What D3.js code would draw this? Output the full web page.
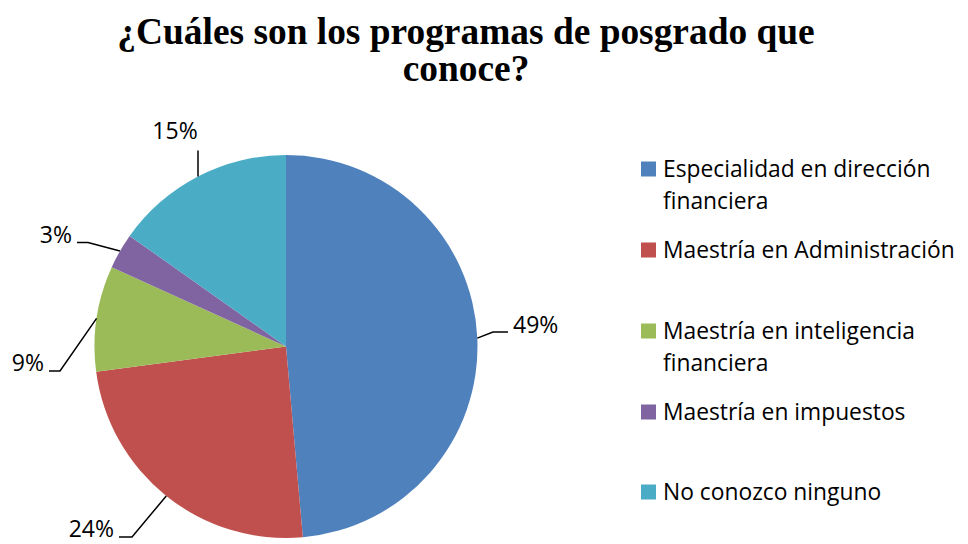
<!DOCTYPE html>
<html>
<head>
<meta charset="utf-8">
<script src="https://cdn.jsdelivr.net/npm/d3@7/dist/d3.min.js"></script>
<style>
  body { margin: 0; background: #fff; }
  svg { display: block; }
</style>
</head>
<body>
<svg id="chart" width="968" height="544"></svg>
<script>
const titleLines = ["¿Cuáles son los programas de posgrado que", "conoce?"];
const categories = [
    "Especialidad en dirección financiera",
    "Maestría en Administración",
    "Maestría en inteligencia financiera",
    "Maestría en impuestos",
    "No conozco ninguno"
];
// shares as drawn (labels show them rounded)
const values = [48.6, 24.3, 8.9, 3.0, 15.2];
const colors = ["#4F81BD", "#C0504D", "#9BBB59", "#8064A2", "#4BACC6"];
// legend text broken the way the original wraps it
const legendLines = [
    ["Especialidad en dirección", "financiera"],
    ["Maestría en Administración"],
    ["Maestría en inteligencia", "financiera"],
    ["Maestría en impuestos"],
    ["No conozco ninguno"]
];

const svg = d3.select("#chart");
const cx = 286, cy = 346.5, radius = 191.5;

// title
svg.append("g")
    .selectAll("text")
    .data(titleLines)
    .join("text")
    .attr("x", 466)
    .attr("y", (d, i) => 44 + i * 37)
    .attr("text-anchor", "middle")
    .style("font-family", "'Liberation Serif', 'Times New Roman', serif")
    .style("font-weight", "bold")
    .style("font-size", "37.4px")
    .style("fill", "#000")
    .text(d => d);

const pie = d3.pie().sort(null).value(d => d)(values);
const arc = d3.arc().innerRadius(0).outerRadius(radius);

const pieGroup = svg.append("g").attr("transform", `translate(${cx},${cy})`);

pieGroup.selectAll("path")
    .data(pie)
    .join("path")
    .attr("d", arc)
    .attr("fill", (d, i) => colors[i]);

// label leaders: elbow point and label anchor relative to the pie centre
const elbow = [[207, -14.5], [-154, 190.5], [-226, 24.5], [-198, -104], [-88, -196]];
const tail = [222, -167, -237, -209, null];
const labelX = [227, -172, -242, -214, -111];
const labelY = [-13.5, 190.5, 24.5, -103.5, -207.5];
const anchors = ["start", "end", "end", "end", "middle"];

const edge = d => {
    const a = (d.startAngle + d.endAngle) / 2;
    return [Math.sin(a) * radius, -Math.cos(a) * radius];
};

pieGroup.selectAll("polyline")
    .data(pie)
    .join("polyline")
    .attr("points", (d, i) => {
        const pts = [edge(d), elbow[i]];
        if (tail[i] !== null) pts.push([tail[i], elbow[i][1]]);
        return pts.map(q => q.join(",")).join(" ");
    })
    .attr("fill", "none")
    .attr("stroke", "#000")
    .attr("stroke-width", 1.5);

pieGroup.selectAll("text.lbl")
    .data(pie)
    .join("text")
    .attr("class", "lbl")
    .attr("x", (d, i) => labelX[i])
    .attr("y", (d, i) => labelY[i])
    .attr("text-anchor", (d, i) => anchors[i])
    .style("font-family", "'Open Sans', sans-serif")
    .style("font-size", "23px")
    .style("fill", "#000")
    .text(d => Math.round(d.data) + "%");

// legend
const legendY = [169, 250, 331, 412, 492];
const legend = svg.append("g")
    .selectAll("g")
    .data(categories)
    .join("g")
    .attr("transform", (d, i) => `translate(641,${legendY[i]})`);

legend.append("rect")
    .attr("x", 0)
    .attr("y", -7.5)
    .attr("width", 15)
    .attr("height", 15)
    .attr("fill", (d, i) => colors[i]);

legend.append("text")
    .style("font-family", "'Open Sans', sans-serif")
    .style("font-size", "22.8px")
    .style("fill", "#000")
    .selectAll("tspan")
    .data((d, i) => legendLines[i])
    .join("tspan")
    .attr("x", 22)
    .attr("y", (d, i) => 8 + i * 32)
    .text(d => d);
</script>
</body>
</html>
